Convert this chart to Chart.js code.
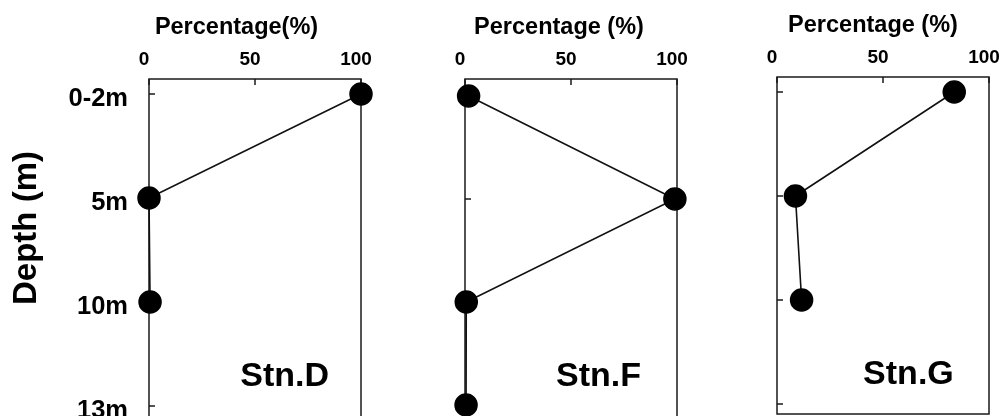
<!DOCTYPE html>
<html>
<head>
<meta charset="utf-8">
<script src="https://cdn.jsdelivr.net/npm/chart.js@4.4.1/dist/chart.umd.min.js"></script>
<style>
  html, body { margin: 0; padding: 0; background: #fff; overflow: hidden; width: 1002px; height: 416px; }
  canvas { position: absolute; top: 0; }
</style>
</head>
<body>
<canvas id="stnD"></canvas>
<canvas id="stnF"></canvas>
<canvas id="stnG"></canvas>
<script>
// datos
const depths = ['0-2m', '5m', '10m', '13m'];
const stnD = [100, 0, 0.5, null];
const stnF = [1.7, 99, 0.6, 0.5];
const stnG = [83.6, 8.7, 11.6, null];
const pctTicks = [0, 50, 100];

const FONT = "'Liberation Sans', Arial, sans-serif";

// marco, ticks hacia adentro y nombre de la estacion
const framePlugin = {
  id: 'frame',
  beforeDatasetsDraw(chart, args, opts) {
    const { ctx, chartArea: a, scales: { x, y } } = chart;
    ctx.save();
    ctx.strokeStyle = '#1a1a1a';
    ctx.lineWidth = 1.5;
    ctx.strokeRect(a.left, a.top, a.right - a.left, a.bottom - a.top);
    ctx.beginPath();
    x.ticks.forEach(t => {
      const px = x.getPixelForValue(t.value);
      ctx.moveTo(px, a.top);
      ctx.lineTo(px, a.top + 6);
    });
    y.ticks.forEach(t => {
      const py = y.getPixelForValue(t.value);
      ctx.moveTo(a.left, py);
      ctx.lineTo(a.left + 6, py);
    });
    ctx.stroke();
    ctx.fillStyle = '#000';
    ctx.font = 'bold 34px ' + FONT;
    ctx.textAlign = 'center';
    ctx.textBaseline = 'middle';
    ctx.fillText(opts.text, x.getPixelForValue(opts.x), y.getPixelForValue(opts.y));
    ctx.restore();
  }
};

function drawPanel(id, p) {
  const cv = document.getElementById(id);
  cv.width = p.w;
  cv.height = p.h;
  cv.style.left = p.left + 'px';

  const pts = depths
    .map((d, i) => ({ x: p.values[i], y: i }))
    .filter(q => q.x !== null);

  new Chart(cv, {
    type: 'scatter',
    data: {
      datasets: [{
        data: pts,
        showLine: true,
        borderColor: '#111',
        borderWidth: 1.6,
        pointRadius: 11,
        pointBorderWidth: 1.5,
        pointBackgroundColor: '#000',
        pointBorderColor: '#000',
        clip: false
      }]
    },
    options: {
      responsive: false,
      animation: false,
      events: [],
      layout: { autoPadding: false, padding: { bottom: p.padBottom || 0 } },
      plugins: {
        legend: { display: false },
        tooltip: { enabled: false },
        title: p.depthTitle ? {
          display: true,
          text: 'Depth (m)',
          position: 'left',
          color: '#000',
          font: { family: FONT, size: 33, weight: 'bold' },
          padding: { top: 7, bottom: 0 }
        } : { display: false },
        subtitle: {
          display: true,
          text: p.heading,
          position: 'top',
          color: '#000',
          font: { family: FONT, size: 23.5, weight: 'bold' },
          padding: { top: p.headTop, bottom: 0 }
        },
        frame: { text: p.station, x: p.stnX, y: p.stnY }
      },
      scales: {
        x: {
          type: 'linear',
          position: 'top',
          min: 0,
          max: 100,
          grid: { display: false },
          border: { display: false },
          afterBuildTicks: s => { s.ticks = pctTicks.map(v => ({ value: v })); },
          ticks: {
            color: '#000',
            font: { family: FONT, size: 19, weight: 'bold' },
            padding: 0,
            labelOffset: -5
          },
          afterFit: s => {
            s.height = p.xH;
            s.paddingLeft = 0;
            s.paddingRight = 0;
          }
        },
        y: {
          type: 'linear',
          reverse: true,
          min: p.yMin,
          max: p.yMax,
          grid: { display: false },
          border: { display: false },
          afterBuildTicks: s => { s.ticks = depths.map((d, i) => ({ value: i })); },
          ticks: {
            display: p.depthTitle,
            callback: v => depths[v],
            color: '#000',
            font: { family: FONT, size: 25.5, weight: 'bold' },
            padding: 13,
            labelOffset: 5
          },
          afterFit: s => {
            s.width = p.yW;
            s.paddingTop = 0;
            s.paddingBottom = 0;
          }
        },
        yr: {
          type: 'linear',
          position: 'right',
          grid: { display: false },
          border: { display: false },
          ticks: { display: false },
          afterFit: s => {
            s.width = p.rW;
            s.paddingTop = 0;
            s.paddingBottom = 0;
          }
        }
      }
    },
    plugins: [framePlugin]
  });
}

// titulo izquierdo: 7 + 33*1.2 = 46.6 px de ancho
drawPanel('stnD', {
  left: 0, w: 473, h: 456,
  values: stnD, heading: 'Percentage(%)', station: 'Stn.D',
  depthTitle: true, headTop: 13, xH: 37.8, yW: 102.4, rW: 112,
  yMin: -0.144, yMax: 3.481, stnX: 64, stnY: 2.72
});

drawPanel('stnF', {
  left: 423, w: 272, h: 430,
  values: stnF, heading: 'Percentage (%)', station: 'Stn.F',
  depthTitle: false, headTop: 13, xH: 37.8, yW: 42, rW: 18,
  yMin: -0.165, yMax: 3.243, stnX: 63, stnY: 2.72
});

drawPanel('stnG', {
  left: 739, w: 268, h: 416, padBottom: 2,
  values: stnG, heading: 'Percentage (%)', station: 'Stn.G',
  depthTitle: false, headTop: 11, xH: 37.8, yW: 38, rW: 18,
  yMin: -0.144, yMax: 3.096, stnX: 62, stnY: 2.72
});
</script>
</body>
</html>
